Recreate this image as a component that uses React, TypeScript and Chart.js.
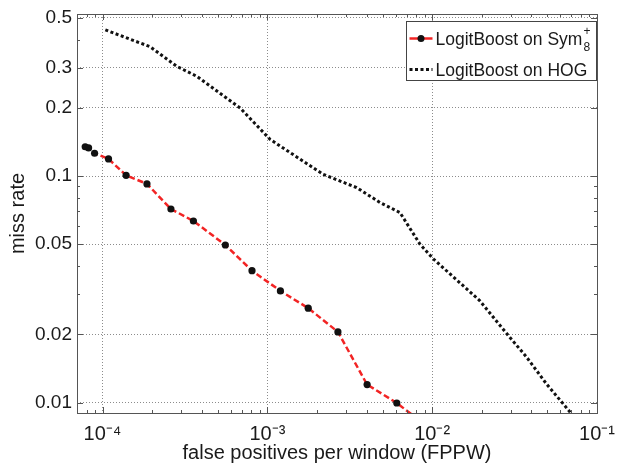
import React, { useEffect, useRef } from "react";
import { Chart, registerables } from "chart.js";

Chart.register(...registerables);

// ---- data ----
const seriesNames = ["LogitBoost on Sym", "LogitBoost on HOG"];
const symSup = "+";
const symSub = "8";

const symFppw = [7.85e-5, 8.23e-5, 8.95e-5, 1.087e-4, 1.39e-4, 1.86e-4, 2.6e-4, 3.56e-4, 5.56e-4, 8.07e-4, 1.2e-3, 1.77e-3, 2.68e-3, 4.03e-3, 6.1e-3, 7.6e-3];
const symMiss = [0.1346, 0.133, 0.126, 0.119, 0.1007, 0.0923, 0.0715, 0.0633, 0.0496, 0.0382, 0.0311, 0.0261, 0.0205, 0.012, 0.00995, 0.0088];
const symMarkers = [1, 1, 1, 1, 1, 1, 1, 1, 1, 1, 1, 1, 1, 1, 1, 0];

const hogFppw = [1.04e-4, 1.945e-4, 2.82e-4, 3.73e-4, 6.84e-4, 1.04e-3, 2.18e-3, 3.48e-3, 4.82e-3, 6.37e-3, 8.42e-3, 1.014e-2, 1.94e-2, 2.89e-2, 3.73e-2, 4.93e-2, 6.84e-2, 7.33e-2];
const hogMiss = [0.4418, 0.372, 0.305, 0.2755, 0.1995, 0.145, 0.1017, 0.0889, 0.0764, 0.069, 0.0501, 0.0431, 0.0282, 0.0198, 0.0159, 0.0121, 0.0091, 0.00838];

const xTickValues = [1e-4, 1e-3, 1e-2, 1e-1];
const xTickLabels = ["10\u207B\u2074", "10\u207B\u00B3", "10\u207B\u00B2", "10\u207B\u00B9"];
const yTickValues = [0.01, 0.02, 0.05, 0.1, 0.2, 0.3, 0.5];
const yTickLabels = ["0.01", "0.02", "0.05", "0.1", "0.2", "0.3", "0.5"];
const xRange = [7.03e-5, 0.1];
const yRange = [0.00899, 0.519];

const xTitle = "false positives per window (FPPW)";
const yTitle = "miss rate";

const FONT = "'Liberation Sans', Arial, Helvetica, sans-serif";
const TEXT = "#1a1a1a";
const RED = "#f22424";
const BLACK = "#111";

function labelFor(values: number[], labels: string[], v: number) {
  const i = values.findIndex((t) => Math.abs(t - v) / t < 1e-6);
  return i >= 0 ? labels[i] : "";
}

const decorPlugin = {
  id: "decor",
  afterDraw(chart: any) {
    const { ctx, chartArea: a, scales } = chart;
    const xs = scales.x;
    const ys = scales.y;
    ctx.save();
    // minor / major ticks inside the frame
    ctx.strokeStyle = "#555";
    ctx.lineWidth = 1;
    ctx.beginPath();
    for (let d = -5; d <= -1; d++) {
      for (let k = 1; k <= 9; k++) {
        const v = k * Math.pow(10, d);
        if (v < xs.min * 0.999 || v > xs.max * 1.001) continue;
        const px = Math.round(xs.getPixelForValue(v)) + 0.5;
        const len = k === 1 ? 6 : 3;
        ctx.moveTo(px, a.bottom);
        ctx.lineTo(px, a.bottom - len);
        ctx.moveTo(px, a.top);
        ctx.lineTo(px, a.top + len);
      }
    }
    for (let d = -3; d <= 0; d++) {
      for (let k = 1; k <= 9; k++) {
        const v = k * Math.pow(10, d);
        if (v < ys.min || v > ys.max) continue;
        const py = Math.round(ys.getPixelForValue(v)) + 0.5;
        const major = yTickValues.some((t) => Math.abs(t - v) / t < 1e-6);
        const len = major ? 6 : 3;
        ctx.moveTo(a.left, py);
        ctx.lineTo(a.left + len, py);
        ctx.moveTo(a.right, py);
        ctx.lineTo(a.right - len, py);
      }
    }
    ctx.stroke();
    // frame
    ctx.strokeStyle = "#555";
    ctx.strokeRect(Math.round(a.left) + 0.5, Math.round(a.top) + 0.5, Math.round(a.right - a.left), Math.round(a.bottom - a.top));

    // legend
    const ds = chart.data.datasets;
    const bw = 190;
    const bh = 59;
    const bx = Math.round(a.right) - bw - 0.5;
    const by = Math.round(a.top) + 7.5;
    ctx.fillStyle = "#fff";
    ctx.fillRect(bx, by, bw, bh);
    ctx.strokeStyle = "#444";
    ctx.lineWidth = 1;
    ctx.strokeRect(bx, by, bw, bh);

    const y1 = by + 17;
    const y2 = by + 48;
    // sample 1
    ctx.save();
    ctx.strokeStyle = ds[0].borderColor;
    ctx.lineWidth = ds[0].borderWidth;
    ctx.setLineDash([]);
    ctx.beginPath();
    ctx.moveTo(bx + 3, y1);
    ctx.lineTo(bx + 26, y1);
    ctx.stroke();
    ctx.fillStyle = ds[0].pointBackgroundColor;
    ctx.beginPath();
    ctx.arc(bx + 14.5, y1, 3.5, 0, Math.PI * 2);
    ctx.fill();
    // sample 2
    ctx.strokeStyle = ds[1].borderColor;
    ctx.lineWidth = ds[1].borderWidth;
    ctx.setLineDash(ds[1].borderDash);
    ctx.beginPath();
    ctx.moveTo(bx + 3, y2);
    ctx.lineTo(bx + 26, y2);
    ctx.stroke();
    ctx.restore();

    ctx.fillStyle = TEXT;
    ctx.textBaseline = "alphabetic";
    ctx.textAlign = "left";
    ctx.font = `17.5px ${FONT}`;
    const tx = bx + 29;
    ctx.fillText(seriesNames[0], tx, y1 + 6.5);
    const w = ctx.measureText(seriesNames[0]).width;
    ctx.font = `12px ${FONT}`;
    ctx.fillText(symSup, tx + w + 1, y1 - 4);
    ctx.fillText(symSub, tx + w + 1, y1 + 12);
    ctx.font = `17.5px ${FONT}`;
    ctx.fillText(seriesNames[1], tx, y2 + 6.5);
    ctx.restore();
  },
};

export default function App() {
  const ref = useRef<HTMLCanvasElement>(null);

  useEffect(() => {
    Chart.defaults.font.family = FONT;
    Chart.defaults.color = TEXT;
    const chart = new Chart(ref.current as HTMLCanvasElement, {
      type: "line",
      data: {
        datasets: [
          {
            label: seriesNames[0],
            data: symFppw.map((x, i) => ({ x, y: symMiss[i] })),
            borderColor: RED,
            borderWidth: 2.5,
            borderDash: [6, 3],
            pointRadius: symMarkers.map((m) => (m ? 3.6 : 0)),
            pointBackgroundColor: BLACK,
            pointBorderColor: BLACK,
            pointBorderWidth: 0,
            tension: 0,
            clip: 0,
          },
          {
            label: seriesNames[1],
            data: hogFppw.map((x, i) => ({ x, y: hogMiss[i] })),
            borderColor: BLACK,
            borderWidth: 3,
            borderDash: [3, 2.5],
            pointRadius: 0,
            tension: 0,
            clip: 0,
          },
        ],
      },
      options: {
        responsive: false,
        animation: false,
        events: [],
        layout: { padding: { top: 14, right: 20, left: 0, bottom: 0 } },
        plugins: {
          legend: { display: false },
          tooltip: { enabled: false },
        },
        scales: {
          x: {
            type: "logarithmic",
            min: xRange[0],
            max: xRange[1],
            afterBuildTicks: (s: any) => {
              s.ticks = xTickValues.map((v) => ({ value: v }));
            },
            afterFit: (s: any) => {
              s.height = 52;
              s.paddingLeft = 0;
              s.paddingRight = 0;
            },
            ticks: {
              autoSkip: false,
              maxRotation: 0,
              padding: 9,
              color: TEXT,
              font: { size: 20 },
              callback: (v: any) => labelFor(xTickValues, xTickLabels, Number(v)),
            },
            grid: { color: "#8c8c8c", lineWidth: 1, drawTicks: false },
            border: { display: false, dash: [1, 2] },
            title: {
              display: true,
              text: xTitle,
              color: TEXT,
              font: { size: 20 },
              padding: { top: 0, bottom: 0 },
            },
          },
          y: {
            type: "logarithmic",
            min: yRange[0],
            max: yRange[1],
            afterBuildTicks: (s: any) => {
              s.ticks = yTickValues.map((v) => ({ value: v }));
            },
            afterFit: (s: any) => {
              s.width = 77;
              s.paddingTop = 0;
              s.paddingBottom = 0;
            },
            ticks: {
              autoSkip: false,
              padding: 5,
              color: TEXT,
              font: { size: 19 },
              callback: (v: any) => labelFor(yTickValues, yTickLabels, Number(v)),
            },
            grid: { color: "#8c8c8c", lineWidth: 1, drawTicks: false },
            border: { display: false, dash: [1, 2] },
            title: {
              display: true,
              text: yTitle,
              color: TEXT,
              font: { size: 20 },
              padding: { top: 6, bottom: 0 },
            },
          },
        },
      },
      plugins: [decorPlugin],
    } as any);
    return () => chart.destroy();
  }, []);

  return (
    <div style={{ position: "fixed", left: 0, top: 0, width: 617, height: 465, background: "#fff" }}>
      <canvas ref={ref} width={617} height={465} style={{ display: "block", width: 617, height: 465 }} />
    </div>
  );
}
